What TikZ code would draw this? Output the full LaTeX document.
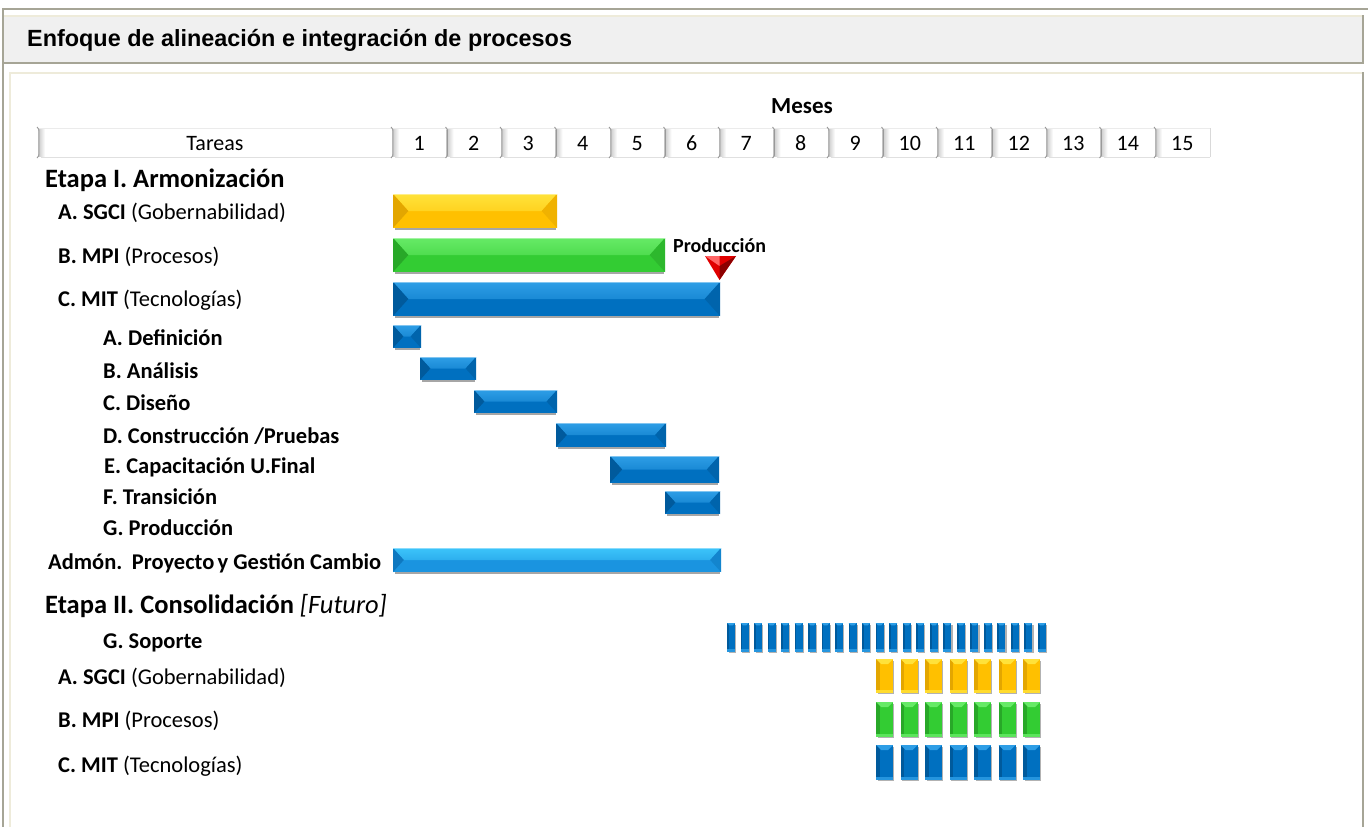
\documentclass[tikz,border=0pt]{standalone}
\usepackage{fontspec}
\setmainfont{Carlito}
\newfontfamily\arialfont{Liberation Sans}
\definecolor{frameG}{HTML}{A6A596}
\definecolor{creamL}{HTML}{EEEBDA}
\definecolor{titleF}{HTML}{F0F0F0}
\definecolor{yelM}{HTML}{FFC000}
\definecolor{yelL}{HTML}{FFE23A}
\definecolor{yelD}{HTML}{E3A600}
\definecolor{grnM}{HTML}{33CC33}
\definecolor{grnL}{HTML}{66EA66}
\definecolor{grnD}{HTML}{28A828}
\definecolor{bluM}{HTML}{0070C0}
\definecolor{bluL}{HTML}{2E9EE6}
\definecolor{bluD}{HTML}{005A9C}
\definecolor{cyaM}{HTML}{1A94E0}
\definecolor{cyaL}{HTML}{3CC4FA}
\definecolor{cyaD}{HTML}{0E78C0}
\definecolor{redM}{HTML}{E00000}
\newcommand\mybar[7]{%
  \pgfmathsetmacro\bh{(#4-#2)/2}%
  \pgfmathsetmacro\bw{min(\bh*0.9,(#3-#1)/2)}%
  \fill[black!35] (#1+2,#4-1) rectangle (#3-1,#4+2);
  \fill[#5] (#1,#2) rectangle (#3,#4);
  \shade[top color=#6, bottom color=#6!55!#5] (#1,#2) -- (#3,#2) -- (#3-\bw,#2+\bh) -- (#1+\bw,#2+\bh) -- cycle;
  \fill[#7] (#1,#2) -- (#1+\bw,#2+\bh) -- (#1,#4) -- cycle;
  \fill[#7!55!#5] (#3,#2) -- (#3-\bw,#2+\bh) -- (#3,#4) -- cycle;
  \draw[#6!60!white, line width=0.8] (#1,#2+0.5) -- (#3,#2+0.5);
}
\newcommand\myvbar[7]{%
  \pgfmathsetmacro\vw{#3-#1}%
  \fill[black!30] (#1+1.5,#2+2) rectangle (#3+1.2,#4+1.2);
  \fill[#5] (#1,#2) rectangle (#3,#4);
  \fill[#7] (#1,#2) rectangle ({#1+\vw*0.22},#4);
  \fill[#6] (#1,#2) -- (#3,#2) -- ({#3-\vw*0.3},{#2+\vw*0.3}) -- ({#1+\vw*0.3},{#2+\vw*0.3}) -- cycle;
  \fill[#6!80!#5] (#1,{#4-3}) rectangle (#3,#4);
}
\newcommand\hcell[2]{% x1 x2
  \fill[white] (#1,128) rectangle (#2,157);
  \shade[left color=black!22, right color=white] (#1,129) rectangle (#1+7,156);
  \draw[black!8] (#1,128) -- (#2,128);
  \draw[black!12] (#1+3,157) -- (#2,157);
  \draw[black!40, line width=0.9] (#1-1,127) .. controls (#1+1,129) .. (#1+1,133) -- (#1+1,152) .. controls (#1+1,156) .. (#1-1,158);
}
\tikzset{
  lbl/.style={inner sep=0, anchor=base west, font=\fontsize{22.5}{27}\selectfont},
  lblb/.style={lbl, font=\fontsize{22.5}{27}\selectfont\bfseries},
  etapa/.style={inner sep=0, anchor=base west, font=\fontsize{26.5}{32}\selectfont\bfseries},
  hnum/.style={inner sep=0, anchor=base, font=\fontsize{22}{26}\selectfont}
}
\begin{document}
\begin{tikzpicture}[x=1pt,y=-1pt]
\useasboundingbox (0,0) rectangle (1368,827);
\fill[white] (0,0) rectangle (1368,827);
% frames
\fill[titleF] (3,15) rectangle (1363,63);
\draw[creamL, line width=2] (4,16) -- (1363,16);
\draw[frameG, line width=2] (3,63) -- (1363,63) -- (1363,15);
\draw[creamL, line width=2] (10,827) -- (10,73) -- (1363,73);
\draw[frameG, line width=2] (1363,72) -- (1363,827);
\draw[frameG, line width=2] (3,827) -- (3,9) -- (1368,9);
\node[inner sep=0, anchor=base west, font=\arialfont\bfseries\fontsize{23.4}{27}\selectfont] (title) at (27,46.5) {Enfoque de alineación e integración de procesos};
% header
\node[inner sep=0, anchor=base, font=\fontsize{23}{27}\selectfont\bfseries] (meses) at (802,113) {Meses};
\hcell{38}{392}
\node[hnum] (tareas) at (215,150) {Tareas};
\foreach \k in {1,...,15}{
  \pgfmathsetmacro\xa{392+54.5*(\k-1)}
  \pgfmathsetmacro\xb{392+54.5*\k}
  \hcell{\xa}{\xb}
  \node[hnum] (m\k) at ({392+54.5*(\k-0.5)},150) {\k};
}
\draw[black!15] (1210,128) -- (1210,157);
% labels etapa I
\node[etapa] (e1) at (45,187) {Etapa I. Armonización};
\node[lbl] (l1) at (58,219) {\textbf{A. SGCI} (Gobernabilidad)};
\node[lbl] (l2) at (58,263) {\textbf{B. MPI} (Procesos)};
\node[lbl] (l3) at (58,306) {\textbf{C. MIT} (Tecnologías)};
\node[lblb] (s1) at (103,345) {A. Definición};
\node[lblb] (s2) at (103,378.5) {B. Análisis};
\node[lblb] (s3) at (103,410.5) {C. Diseño};
\node[lblb] (s4) at (103,443.5) {D. Construcción /Pruebas};
\node[lblb] (s5) at (104,473.5) {E. Capacitación U.Final};
\node[lblb] (s6) at (103,504.5) {F. Transición};
\node[lblb] (s7) at (103,535.5) {G. Producción};
\node[lblb] (adm) at (48,569.5) {Admón.\hspace{0.12em} Proyecto\hspace{-0.08em} y Gestión Cambio};
\node[etapa] (e2) at (45,613) {Etapa II. Consolidación {\mdseries\itshape [Futuro]}};
\node[lblb] (sop) at (103,648.5) {G. Soporte};
\node[lbl] (f1) at (58,684.5) {\textbf{A. SGCI} (Gobernabilidad)};
\node[lbl] (f2) at (58,727.5) {\textbf{B. MPI} (Procesos)};
\node[lbl] (f3) at (58,772.5) {\textbf{C. MIT} (Tecnologías)};
% bars etapa I
\mybar{393}{194}{557}{228}{yelM}{yelL}{yelD}
\mybar{393}{238}{665}{272}{grnM}{grnL}{grnD}
\mybar{393}{282}{720}{316}{bluM}{bluL}{bluD}
\mybar{393}{325}{421}{348}{bluM}{bluL}{bluD}
\mybar{420}{357}{476}{380}{bluM}{bluL}{bluD}
\mybar{474}{390}{557}{413}{bluM}{bluL}{bluD}
\mybar{556}{423}{666}{447}{bluM}{bluL}{bluD}
\mybar{610}{456}{719}{483}{bluM}{bluL}{bluD}
\mybar{665}{491}{720}{514}{bluM}{bluL}{bluD}
\mybar{393}{548}{721}{572}{cyaM}{cyaL}{cyaD}
% produccion marker
\fill[redM] (705,256) -- (736,256) -- (719.5,280) -- cycle;
\fill[red!60!white] (705,256) -- (719.5,256) -- (719.5,266) -- cycle;
\fill[red!55!black] (736,256) -- (719.5,280) -- (719.5,266) -- cycle;
\node[inner sep=0, anchor=base west, font=\fontsize{20}{24}\selectfont\bfseries] (prod) at (673,252) {Producción};
% soporte
\foreach \i in {0,...,23}{
  \pgfmathsetmacro\xa{727+13.52*\i}
  \myvbar{\xa}{623}{\xa+8}{652}{bluM}{bluL}{bluD}
}
\foreach \i in {0,...,6}{
  \pgfmathsetmacro\xa{876+24.5*\i}
  \myvbar{\xa}{659}{\xa+17}{693}{yelM}{yelL}{yelD}
  \myvbar{\xa}{702}{\xa+17}{737}{grnM}{grnL}{grnD}
  \myvbar{\xa}{745}{\xa+17}{780}{bluM}{bluL}{bluD}
}
\end{tikzpicture}
\end{document}
